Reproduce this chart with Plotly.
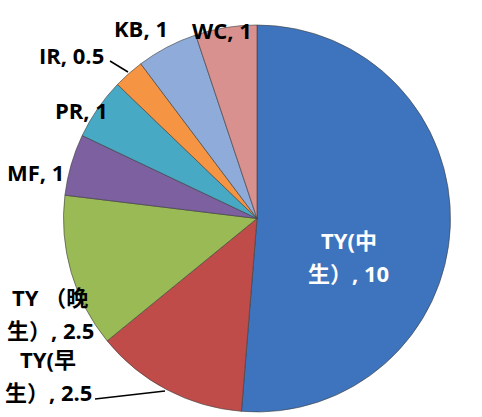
import plotly.graph_objects as go

labels = ["TY(中生）", "TY(早生）", "TY（晚生）", "MF", "PR", "IR", "KB", "WC"]
values = [10, 2.5, 2.5, 1, 1, 0.5, 1, 1]
label_lines = [
    ["TY(中", "生）, 10"],
    ["TY(早", "生）, 2.5"],
    ["TY （晚", "生）, 2.5"],
    ["MF, 1"],
    ["PR, 1"],
    ["IR, 0.5"],
    ["KB, 1"],
    ["WC, 1"],
]
colors = ["#3E74BD", "#BF4C49", "#99BA55", "#7C60A0", "#47A9C4", "#F59442", "#8EABD9", "#D9918F"]
label_colors = ["white"] + ["black"] * 7
# label anchor positions (paper coords, centre of text block)
label_pos = [(0.724, 0.386), (0.10, 0.10), (0.104, 0.249), (0.073, 0.588),
             (0.170, 0.736), (0.149, 0.868), (0.293, 0.933), (0.46, 0.928)]

fig = go.Figure(go.Pie(
    labels=labels, values=values, sort=False, direction="clockwise", rotation=0,
    marker=dict(colors=colors, line=dict(color="rgba(60,60,60,0.6)", width=1)),
    textinfo="none", hoverinfo="label+value", showlegend=False,
    domain=dict(x=[63/482, 451/482], y=[1-412/417, 1-25/417]),
))

font = dict(family="Open Sans, Noto Sans CJK SC, sans-serif", size=22)
line_gap = 33 / 417
for lines, (x, y), c in zip(label_lines, label_pos, label_colors):
    n = len(lines)
    for i, t in enumerate(lines):
        yy = y + ((n - 1) / 2 - i) * line_gap
        fig.add_annotation(text=f"<b>{t}</b>", x=x, y=yy, xref="paper", yref="paper",
                           showarrow=False, font=dict(color=c, **font),
                           xanchor="center", yanchor="middle")

# leader lines
fig.add_shape(type="line", xref="paper", yref="paper",
              x0=110/482, y0=1-61/417, x1=128/482, y1=1-72/417,
              line=dict(color="black", width=1.5))
fig.add_shape(type="line", xref="paper", yref="paper",
              x0=95/482, y0=1-399/417, x1=165/482, y1=1-391/417,
              line=dict(color="black", width=1.5))

fig.update_layout(width=482, height=417, margin=dict(l=0, r=0, t=0, b=0),
                  paper_bgcolor="white", plot_bgcolor="white")
fig.write_html("out.html", config={"displayModeBar": False},
               post_script="document.body.style.margin='0';document.body.style.overflow='hidden';")
